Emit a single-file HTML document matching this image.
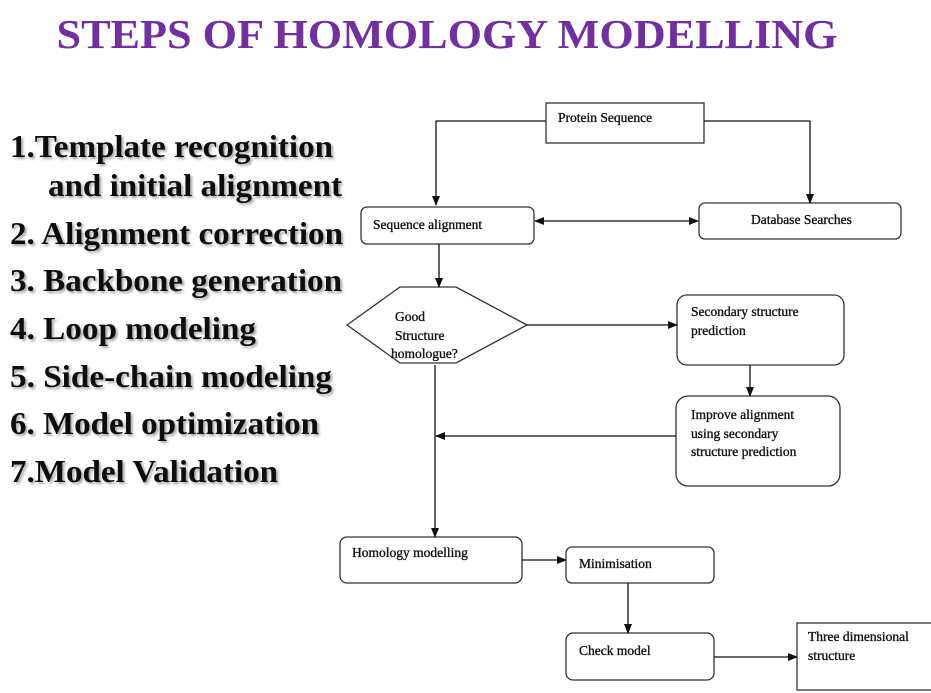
<!DOCTYPE html>
<html><head><meta charset="utf-8"><style>
html,body{margin:0;padding:0;background:#fff;}
svg{display:block;}
.t{font-family:"Liberation Serif",serif;font-size:13.5px;fill:#111;stroke:#111;stroke-width:0.35;}
.l{font-family:"Liberation Serif",serif;font-size:32px;font-weight:bold;fill:#111;}
</style></head><body>
<svg width="931" height="693" viewBox="0 0 931 693" xmlns="http://www.w3.org/2000/svg">
<defs>
<marker id="a" markerWidth="10" markerHeight="10" refX="9" refY="5" orient="auto-start-reverse" markerUnits="userSpaceOnUse"><path d="M0,1 L10,5 L0,9 z" fill="#111"/></marker>
<filter id="sh"><feDropShadow dx="2" dy="2" stdDeviation="1.2" flood-color="#000" flood-opacity="0.35"/></filter>
</defs>
<text x="447" y="48" text-anchor="middle" font-family="Liberation Serif,serif" font-weight="bold" font-size="41" fill="#7030a0" textLength="781" lengthAdjust="spacingAndGlyphs">STEPS OF HOMOLOGY MODELLING</text>
<g filter="url(#sh)">
<text class="l" x="10" y="157" textLength="323" lengthAdjust="spacingAndGlyphs">1.Template recognition</text>
<text class="l" x="48" y="196" textLength="294" lengthAdjust="spacingAndGlyphs">and initial alignment</text>
<text class="l" x="10" y="244" textLength="333" lengthAdjust="spacingAndGlyphs">2. Alignment correction</text>
<text class="l" x="10" y="291" textLength="332" lengthAdjust="spacingAndGlyphs">3. Backbone generation</text>
<text class="l" x="10" y="339" textLength="246" lengthAdjust="spacingAndGlyphs">4. Loop modeling</text>
<text class="l" x="10" y="387" textLength="322" lengthAdjust="spacingAndGlyphs">5. Side-chain modeling</text>
<text class="l" x="10" y="434" textLength="309" lengthAdjust="spacingAndGlyphs">6. Model optimization</text>
<text class="l" x="10" y="482" textLength="268" lengthAdjust="spacingAndGlyphs">7.Model Validation</text>
</g>
<g fill="none" stroke="#333" stroke-width="1.3">
<rect x="546" y="103" width="158" height="40"/>
<rect x="361" y="207" width="173" height="37" rx="6"/>
<rect x="699" y="203" width="202" height="36" rx="6"/>
<polygon points="347,325 400,287 456,287 527,325 456,363 400,363"/>
<rect x="677" y="295" width="167" height="70" rx="10"/>
<rect x="676" y="396" width="164" height="90" rx="12"/>
<rect x="340" y="537" width="182" height="46" rx="7"/>
<rect x="566" y="547" width="148" height="36" rx="6"/>
<rect x="566" y="633" width="148" height="47" rx="7"/>
<rect x="797" y="623" width="140" height="67"/>
</g>
<g fill="none" stroke="#111" stroke-width="1.3">
<polyline points="546,121 436,121 436,205" marker-end="url(#a)"/>
<polyline points="704,121 810,121 810,203" marker-end="url(#a)"/>
<line x1="535" y1="221" x2="698" y2="221" marker-start="url(#a)" marker-end="url(#a)"/>
<line x1="439" y1="244" x2="439" y2="287" marker-end="url(#a)"/>
<line x1="527" y1="325" x2="677" y2="325" marker-end="url(#a)"/>
<line x1="750" y1="365" x2="750" y2="396" marker-end="url(#a)"/>
<line x1="676" y1="436" x2="436" y2="436" marker-end="url(#a)"/>
<line x1="435" y1="365" x2="435" y2="537" marker-end="url(#a)"/>
<line x1="522" y1="560" x2="566" y2="560" marker-end="url(#a)"/>
<line x1="628" y1="583" x2="628" y2="633" marker-end="url(#a)"/>
<line x1="714" y1="657" x2="797" y2="657" marker-end="url(#a)"/>
</g>
<text class="t" x="558" y="122">Protein Sequence</text>
<text class="t" x="373" y="229">Sequence alignment</text>
<text class="t" x="751" y="224">Database Searches</text>
<text class="t" x="395" y="321">Good</text>
<text class="t" x="395" y="340">Structure</text>
<text class="t" x="391" y="358">homologue?</text>
<text class="t" x="691" y="316">Secondary structure</text>
<text class="t" x="691" y="335">prediction</text>
<text class="t" x="691" y="419">Improve alignment</text>
<text class="t" x="691" y="438">using secondary</text>
<text class="t" x="691" y="456">structure prediction</text>
<text class="t" x="352" y="557">Homology modelling</text>
<text class="t" x="579" y="568">Minimisation</text>
<text class="t" x="579" y="655">Check model</text>
<text class="t" x="808" y="641">Three dimensional</text>
<text class="t" x="808" y="660">structure</text>
</svg>
</body></html>
